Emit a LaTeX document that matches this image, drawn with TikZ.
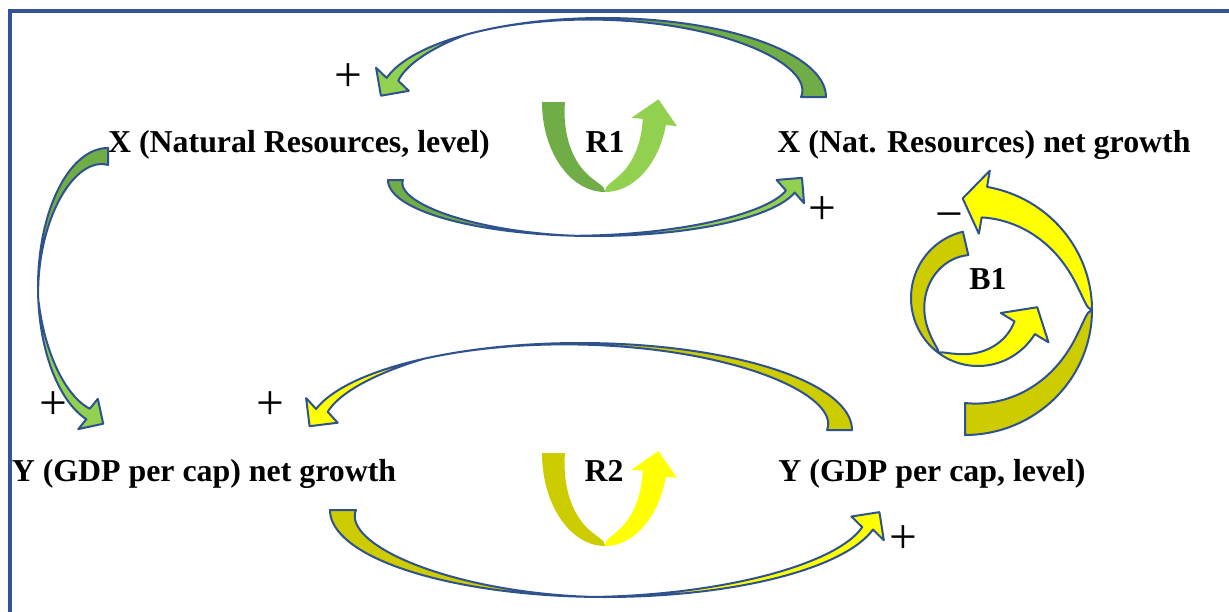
\documentclass[tikz,border=0pt]{standalone}
\usepackage{fontspec}
\setmainfont{Liberation Serif}
\definecolor{arrowblue}{RGB}{47,82,143}
\definecolor{frameblue}{RGB}{52,84,150}
\definecolor{dgreen}{RGB}{112,173,71}
\definecolor{lgreen}{RGB}{146,208,80}
\definecolor{yel}{RGB}{255,255,0}
\definecolor{olive}{RGB}{204,204,0}
\pgfkeys{
  /ca/.is family, /ca,
  cx/.store in=\caCx, cy/.store in=\caCy,
  rx/.store in=\caRx, ry/.store in=\caRy,
  t0/.store in=\caTa, tm/.store in=\caTm, t1/.store in=\caTb,
  w0/.store in=\caWa, w1/.store in=\caWb,
  pd/.store in=\caPd, pl/.store in=\caPl,
  hl/.store in=\caHl, hw/.store in=\caHw,
  dark/.store in=\caDark, light/.store in=\caLight,
  outline/.store in=\caOut
}
\newcommand\curvarrow[1]{%
  \pgfkeys{/ca, pd=1, pl=1, hl=20, hw=20, outline=arrowblue, #1}%
  \pgfmathsetmacro\caS{((\caTb)<(\caTa)) ? -1 : 1}%
  \pgfmathsetmacro\caOx{\caCx+\caRx*cos(\caTb)}%
  \pgfmathsetmacro\caOy{\caCy+\caRy*sin(\caTb)}%
  \pgfmathsetmacro\caIx{\caCx+(\caRx-\caWb)*cos(\caTb)}%
  \pgfmathsetmacro\caIy{\caCy+(\caRy-\caWb)*sin(\caTb)}%
  \pgfmathsetmacro\caMx{(\caOx+\caIx)/2}%
  \pgfmathsetmacro\caMy{(\caOy+\caIy)/2}%
  \pgfmathsetmacro\caDx{-1*(\caS)*\caRx*sin(\caTb)}%
  \pgfmathsetmacro\caDy{(\caS)*\caRy*cos(\caTb)}%
  \pgfmathsetmacro\caL{veclen(\caDx,\caDy)}%
  \pgfmathsetmacro\caUx{(\caDx)/\caL}%
  \pgfmathsetmacro\caUy{(\caDy)/\caL}%
  \pgfmathsetmacro\caTx{\caMx+\caHl*(\caUx)}%
  \pgfmathsetmacro\caTy{\caMy+\caHl*(\caUy)}%
  \pgfmathsetmacro\caNx{-1*(\caUy)}%
  \pgfmathsetmacro\caNy{(\caUx)}%
  \pgfmathsetmacro\caNs{((\caOx-\caMx)*(\caNx)+(\caOy-\caMy)*(\caNy))>=0 ? 1 : -1}%
  \pgfmathsetmacro\caBox{\caMx+(\caNs)*\caHw*(\caNx)}%
  \pgfmathsetmacro\caBoy{\caMy+(\caNs)*\caHw*(\caNy)}%
  \pgfmathsetmacro\caBix{\caMx-(\caNs)*\caHw*(\caNx)}%
  \pgfmathsetmacro\caBiy{\caMy-(\caNs)*\caHw*(\caNy)}%
  \fill[\caDark]
    plot[domain=\caTa:\caTm, samples=70, variable=\t]
      ({\caCx+\caRx*cos(\t)},{\caCy+\caRy*sin(\t)})
    -- plot[domain=\caTm:\caTa, samples=70, variable=\t]
      ({\caCx+(\caRx-\caWa*((abs(\t-(\caTm))+0.01)/abs((\caTa)-(\caTm)))^(\caPd))*cos(\t)},
       {\caCy+(\caRy-\caWa*((abs(\t-(\caTm))+0.01)/abs((\caTa)-(\caTm)))^(\caPd))*sin(\t)})
    -- cycle;
  \fill[\caLight]
    plot[domain=\caTm:\caTb, samples=70, variable=\t]
      ({\caCx+\caRx*cos(\t)},{\caCy+\caRy*sin(\t)})
    -- (\caBox,\caBoy) -- (\caTx,\caTy) -- (\caBix,\caBiy)
    -- plot[domain=\caTb:\caTm, samples=70, variable=\t]
      ({\caCx+(\caRx-\caWb*((abs(\t-(\caTm))+0.01)/abs((\caTb)-(\caTm)))^(\caPl))*cos(\t)},
       {\caCy+(\caRy-\caWb*((abs(\t-(\caTm))+0.01)/abs((\caTb)-(\caTm)))^(\caPl))*sin(\t)})
    -- cycle;
  \draw[draw=\caOut, line width=1.5pt, line join=round]
    plot[domain=\caTa:\caTb, samples=120, variable=\t]
      ({\caCx+\caRx*cos(\t)},{\caCy+\caRy*sin(\t)})
    -- (\caBox,\caBoy) -- (\caTx,\caTy) -- (\caBix,\caBiy)
    -- plot[domain=\caTb:\caTm, samples=70, variable=\t]
      ({\caCx+(\caRx-\caWb*((abs(\t-(\caTm))+0.01)/abs((\caTb)-(\caTm)))^(\caPl))*cos(\t)},
       {\caCy+(\caRy-\caWb*((abs(\t-(\caTm))+0.01)/abs((\caTb)-(\caTm)))^(\caPl))*sin(\t)})
    -- plot[domain=\caTm:\caTa, samples=70, variable=\t]
      ({\caCx+(\caRx-\caWa*((abs(\t-(\caTm))+0.01)/abs((\caTa)-(\caTm)))^(\caPd))*cos(\t)},
       {\caCy+(\caRy-\caWa*((abs(\t-(\caTm))+0.01)/abs((\caTa)-(\caTm)))^(\caPd))*sin(\t)})
    -- cycle;
}
\tikzset{
  lbl/.style={font=\bfseries\fontsize{23.9}{28}\selectfont, anchor=base, inner sep=0pt},
  polsign/.style={font=\fontsize{37}{40}\selectfont, inner sep=0pt}
}
\begin{document}
\begin{tikzpicture}[x=0.75pt,y=-0.75pt]
\useasboundingbox (0,0) rectangle (1229,611);
\fill[white] (0,0) rectangle (1229,611);
\draw[frameblue, line width=2.5pt] (1240,11) -- (10,11) -- (10,625);

% text nodes
\node[lbl] (xlev) at (299,152) {X (Natural Resources, level)};
\node[lbl] (xgr)  at (984,152) {X (Nat. Resources) net growth};
\node[lbl] (ygr)  at (204,481) {Y (GDP per cap) net growth};
\node[lbl] (ylev) at (932,481) {Y (GDP per cap, level)};
\node[lbl] (r1) at (605,152) {R1};
\node[lbl] (r2) at (604,481) {R2};
\node[lbl] (b1) at (988,289) {B1};

% polarity signs
\node[polsign] (p1) at (348,78) {+};
\node[polsign] (p2) at (822,211) {+};
\node[polsign] (p3) at (53,406) {+};
\node[polsign] (p4) at (270,406) {+};
\node[polsign] (p5) at (903,540) {+};
\node[polsign] (m1) at (949,222) {−};

% R1 loop: X net growth -> X level (top)
\curvarrow{cx=603, cy=97, rx=223, ry=79, t0=0, tm=-128, t1=-166, w0=25, w1=12, pd=2.2, pl=1, hl=20, hw=20, dark=dgreen, light=lgreen}
% X level -> X net growth (bottom)
\curvarrow{cx=594, cy=180, rx=206, ry=56, t0=180, tm=95, t1=13, w0=15, w1=9, pd=1.5, pl=1, hl=18, hw=18, dark=dgreen, light=lgreen}
% X level -> Y net growth (left)
\curvarrow{cx=108, cy=287, rx=70, ry=139, t0=-90, tm=-185, t1=-252, w0=17, w1=11, pd=1.5, pl=1, hl=18, hw=18, dark=dgreen, light=lgreen}
% R2 loop: Y level -> Y net growth (top)
\curvarrow{cx=580, cy=430, rx=272, ry=87, t0=0, tm=-125, t1=-166, w0=25, w1=12, pd=2.2, pl=1, hl=20, hw=20, dark=olive, light=yel}
% Y net growth -> Y level (bottom)
\curvarrow{cx=605, cy=510, rx=275, ry=87, t0=180, tm=92, t1=13, w0=26, w1=11, pd=1.5, pl=1, hl=20, hw=20, dark=olive, light=yel}
% B1: Y level -> X net growth
\curvarrow{cx=965, cy=310, rx=127, ry=125, t0=90, tm=0, t1=-80, w0=32, w1=31, pd=0.5, pl=0.5, hl=22, hw=32, dark=olive, light=yel}
% B1 loop symbol
\curvarrow{cx=978, cy=298, rx=67, ry=68, t0=-103, tm=-234, t1=-328, w0=24, w1=24, pd=0.6, pl=0.6, hl=24, hw=28, dark=olive, light=yel}
% R1 loop symbol
\curvarrow{cx=605, cy=102, rx=63, ry=90, t0=180, tm=90, t1=14.8, w0=23, w1=24, pd=0.4, pl=0.4, hl=23, hw=23, dark=dgreen, light=lgreen, outline=none}
% R2 loop symbol
\curvarrow{cx=605, cy=453, rx=63, ry=93, t0=180, tm=90, t1=14.8, w0=23, w1=24, pd=0.4, pl=0.4, hl=23, hw=23, dark=olive, light=yel, outline=none}
\end{tikzpicture}
\end{document}
